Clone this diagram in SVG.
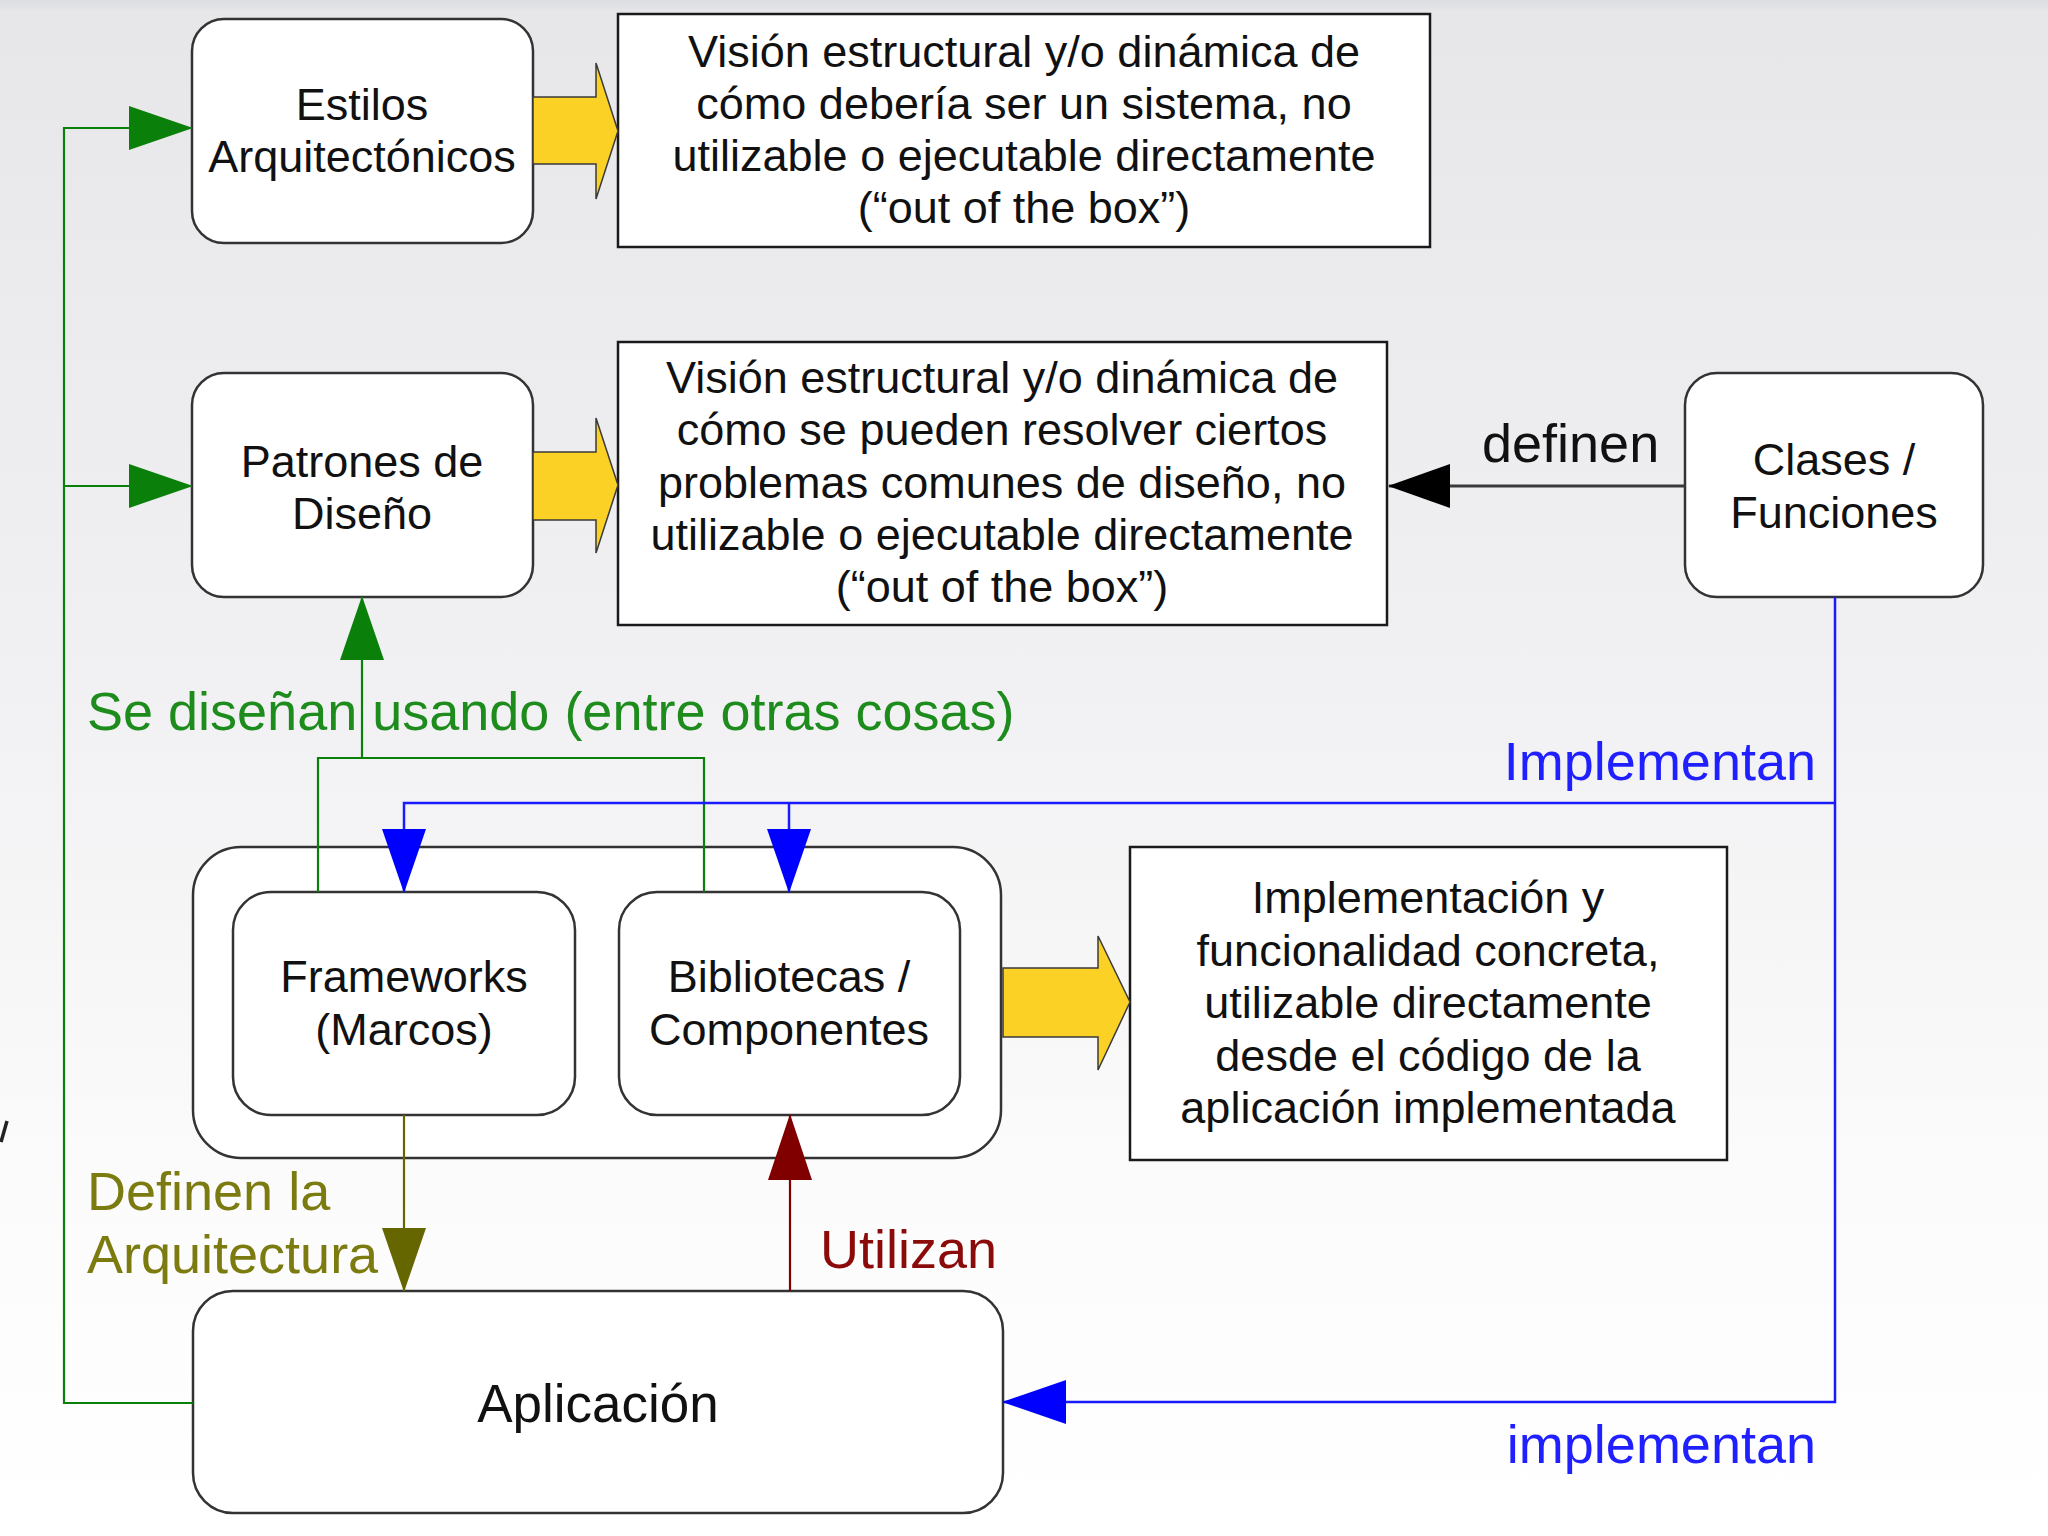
<svg xmlns="http://www.w3.org/2000/svg" width="2048" height="1536" viewBox="0 0 2048 1536">
<defs>
<linearGradient id="bg" x1="0" y1="0" x2="0" y2="1">
<stop offset="0" stop-color="#dcdde0"/>
<stop offset="0.008" stop-color="#e7e7ea"/>
<stop offset="0.45" stop-color="#f1f1f3"/>
<stop offset="0.8" stop-color="#fcfcfc"/>
<stop offset="1" stop-color="#ffffff"/>
</linearGradient>
<marker id="mG" markerUnits="userSpaceOnUse" markerWidth="64" markerHeight="44" viewBox="0 0 64 44" refX="63" refY="22" orient="auto"><path d="M0,0 L64,22 L0,44 z" fill="#0a800a"/></marker>
<marker id="mB" markerUnits="userSpaceOnUse" markerWidth="64" markerHeight="44" viewBox="0 0 64 44" refX="63" refY="22" orient="auto"><path d="M0,0 L64,22 L0,44 z" fill="#0000ff"/></marker>
<marker id="mO" markerUnits="userSpaceOnUse" markerWidth="64" markerHeight="44" viewBox="0 0 64 44" refX="63" refY="22" orient="auto"><path d="M0,0 L64,22 L0,44 z" fill="#666600"/></marker>
<marker id="mR" markerUnits="userSpaceOnUse" markerWidth="66" markerHeight="44" viewBox="0 0 66 44" refX="65" refY="22" orient="auto"><path d="M0,0 L66,22 L0,44 z" fill="#800000"/></marker>
<marker id="mK" markerUnits="userSpaceOnUse" markerWidth="62" markerHeight="44" viewBox="0 0 62 44" refX="61" refY="22" orient="auto"><path d="M0,0 L62,22 L0,44 z" fill="#000000"/></marker>
</defs>
<style>
text{font-family:"Liberation Sans",Arial,sans-serif}
.node{fill:#ffffff;stroke:#333333;stroke-width:2.5}
.box{fill:#ffffff;stroke:#1a1a1a;stroke-width:2.5}
.t{font-size:45px;fill:#111111;text-anchor:middle}
.lbl{font-size:54px}
.yel{fill:#fcd125;stroke:#3a3a3a;stroke-width:1.5;stroke-linejoin:miter}
.cg{fill:none;stroke:#0a800a;stroke-width:2.2}
.cb{fill:none;stroke:#1a1aff;stroke-width:2.5}
.co{fill:none;stroke:#666600;stroke-width:2.2}
.cr{fill:none;stroke:#800000;stroke-width:2.2}
.ck{fill:none;stroke:#3a3a3a;stroke-width:3}
</style>
<rect x="0" y="0" width="2048" height="1536" fill="url(#bg)"/>
<path d="M7,1121 L1,1142" stroke="#222" stroke-width="3.5" fill="none"/>

<g id="estilos">
<rect class="node" x="192" y="19" width="341" height="224" rx="32"/>
<text class="t" x="362" y="120">Estilos</text>
<text class="t" x="362" y="172">Arquitectónicos</text>
</g>
<g id="desc-estilos">
<rect class="box" x="618" y="14" width="812" height="233"/>
<text class="t" x="1024" y="67">Visión estructural y/o dinámica de</text>
<text class="t" x="1024" y="119">cómo debería ser un sistema, no</text>
<text class="t" x="1024" y="171">utilizable o ejecutable directamente</text>
<text class="t" x="1024" y="223">(“out of the box”)</text>
</g>
<g id="patrones">
<rect class="node" x="192" y="373" width="341" height="224" rx="32"/>
<text class="t" x="362" y="477">Patrones de</text>
<text class="t" x="362" y="529">Diseño</text>
</g>
<g id="desc-patrones">
<rect class="box" x="618" y="342" width="769" height="283"/>
<text class="t" x="1002" y="393">Visión estructural y/o dinámica de</text>
<text class="t" x="1002" y="445">cómo se pueden resolver ciertos</text>
<text class="t" x="1002" y="498">problemas comunes de diseño, no</text>
<text class="t" x="1002" y="550">utilizable o ejecutable directamente</text>
<text class="t" x="1002" y="602">(“out of the box”)</text>
</g>
<g id="clases">
<rect class="node" x="1685" y="373" width="298" height="224" rx="32"/>
<text class="t" x="1834" y="475">Clases /</text>
<text class="t" x="1834" y="528">Funciones</text>
</g>
<g id="grupo">
<rect class="node" x="193" y="847" width="808" height="311" rx="48"/>
</g>
<g id="frameworks">
<rect class="node" x="233" y="892" width="342" height="223" rx="38"/>
<text class="t" x="404" y="992">Frameworks</text>
<text class="t" x="404" y="1045">(Marcos)</text>
</g>
<g id="bibliotecas">
<rect class="node" x="619" y="892" width="341" height="223" rx="38"/>
<text class="t" x="789" y="992">Bibliotecas /</text>
<text class="t" x="789" y="1045">Componentes</text>
</g>
<g id="desc-impl">
<rect class="box" x="1130" y="847" width="597" height="313"/>
<text class="t" x="1428" y="913">Implementación y</text>
<text class="t" x="1428" y="966">funcionalidad concreta,</text>
<text class="t" x="1428" y="1018">utilizable directamente</text>
<text class="t" x="1428" y="1071">desde el código de la</text>
<text class="t" x="1428" y="1123">aplicación implementada</text>
</g>
<g id="aplicacion">
<rect class="node" x="193" y="1291" width="810" height="222" rx="40"/>
<text class="t" x="598" y="1422" style="font-size:53px">Aplicación</text>
</g>

<g id="connectors">
<path class="cg" d="M193,1403 H64 V128 H192" marker-end="url(#mG)"/>
<path class="cg" d="M64,486 H192" marker-end="url(#mG)"/>
<path class="cg" d="M318,892 V758 H704 V892"/>
<path class="cg" d="M362,758 V597" marker-end="url(#mG)"/>
<path class="cb" d="M1835,597 V1402 H1003" marker-end="url(#mB)"/>
<path class="cb" d="M1835,803 H404 V892" marker-end="url(#mB)"/>
<path class="cb" d="M789,803 V892" marker-end="url(#mB)"/>
<path class="co" d="M404,1115 V1291" marker-end="url(#mO)"/>
<path class="cr" d="M790,1291 V1115" marker-end="url(#mR)"/>
<path class="ck" d="M1685,486 H1389" marker-end="url(#mK)"/>
<polygon class="yel" points="533,97 596,97 596,63 618,131 596,199 596,164 533,164"/>
<polygon class="yel" points="533,452 596,452 596,418 618,485 596,553 596,520 533,520"/>
<polygon class="yel" points="1003,968 1098,968 1098,936 1130,1002 1098,1070 1098,1037 1003,1037"/>
<text class="lbl" x="87" y="730" fill="#1d8c1d">Se diseñan usando (entre otras cosas)</text>
<text class="lbl" x="1816" y="780" fill="#1f1fff" text-anchor="end">Implementan</text>
<text class="lbl" x="1816" y="1463" fill="#1f1fff" text-anchor="end">implementan</text>
<text class="lbl" x="1482" y="462" fill="#111111">definen</text>
<text class="lbl" x="820" y="1268" fill="#8b0a0a">Utilizan</text>
<text class="lbl" x="87" y="1210" fill="#7b7b10">Definen la</text>
<text class="lbl" x="87" y="1273" fill="#7b7b10">Arquitectura</text>
</g>
</svg>
